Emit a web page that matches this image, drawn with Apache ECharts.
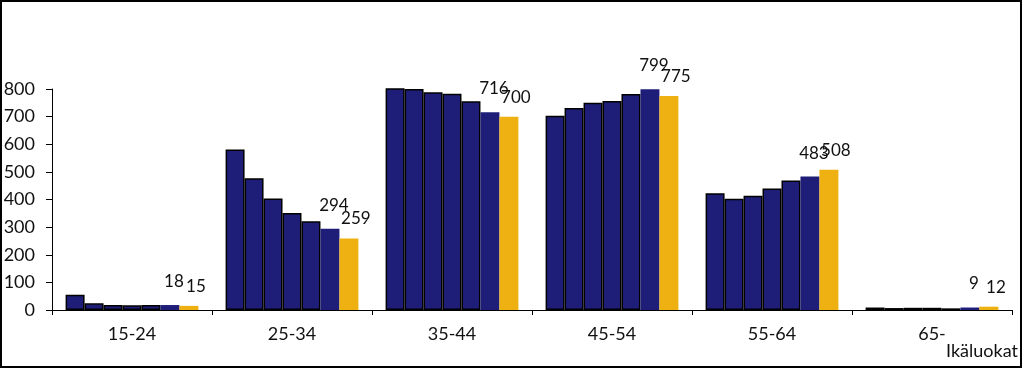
<!DOCTYPE html>
<html>
<head>
<meta charset="utf-8">
<script src="https://cdn.jsdelivr.net/npm/echarts@6/dist/echarts.min.js"></script>
<style>
html,body{margin:0;padding:0;background:#fff;}
#c{width:1023px;height:370px;}
</style>
</head>
<body>
<div id="c"></div>
<script>
const categories = ['15-24', '25-34', '35-44', '45-54', '55-64', '65-'];
const s1 = [55, 581, 812, 703, 423, 9];
const s2 = [24, 477, 800, 731, 403, 7];
const s3 = [18, 404, 788, 750, 414, 8];
const s4 = [17, 351, 783, 757, 440, 8];
const s5 = [18, 321, 756, 782, 469, 6];
const s6 = [18, 294, 716, 799, 483, 9];
const s7 = [15, 259, 700, 775, 508, 12];
const yTicks = [0, 100, 200, 300, 400, 500, 600, 700, 800];
const axisName = 'Ikäluokat';

const NAVY = '#1e1e78';
const GOLD = '#eeb111';
const FONT = 'Lato, "Open Sans", sans-serif';

function navySeries(data, bordered, labelled) {
  return {
    type: 'bar', data: data, barGap: '0%', barCategoryGap: '17%',
    itemStyle: { color: NAVY, borderColor: '#000', borderWidth: bordered ? 1.5 : 0 },
    label: labelled ? { show: true, position: 'top', offset: [4, -10], color: '#111', fontFamily: FONT, fontSize: 17 } : { show: false },
    emphasis: { disabled: true }
  };
}

const chart = echarts.init(document.getElementById('c'), null, { renderer: 'canvas' });
chart.setOption({
  animation: false,
  backgroundColor: '#fff',
  grid: { left: 52, right: 11, top: 89, bottom: 60 },
  xAxis: {
    type: 'category', data: categories,
    axisLine: { lineStyle: { color: '#000', width: 1 } },
    axisTick: { show: true, length: 5, lineStyle: { color: '#000' } },
    axisLabel: { color: '#111', fontFamily: FONT, fontSize: 18, margin: 15 }
  },
  yAxis: {
    type: 'value', min: yTicks[0], max: yTicks[yTicks.length - 1], interval: 100,
    axisLine: { show: true, lineStyle: { color: '#000', width: 1 } },
    axisTick: { show: true, length: 6, lineStyle: { color: '#000' } },
    splitLine: { show: false },
    axisLabel: { color: '#111', fontFamily: FONT, fontSize: 18, margin: 17 }
  },
  series: [
    navySeries(s1, true, false),
    navySeries(s2, true, false),
    navySeries(s3, true, false),
    navySeries(s4, true, false),
    navySeries(s5, true, false),
    navySeries(s6, false, true),
    {
      type: 'bar', data: s7, barGap: '0%', barCategoryGap: '17%',
      itemStyle: { color: GOLD },
      label: { show: true, position: 'top', offset: [7, -6], color: '#111', fontFamily: FONT, fontSize: 17 },
      emphasis: { disabled: true }
    }
  ],
  graphic: [
    { type: 'text', left: 946, top: 342, style: { text: axisName, fill: '#111', font: '18px ' + FONT } },
    { type: 'rect', shape: { x: 1, y: 1, width: 1020, height: 366 }, style: { fill: 'none', stroke: '#000', lineWidth: 2 }, silent: true }
  ]
});
</script>
</body>
</html>
